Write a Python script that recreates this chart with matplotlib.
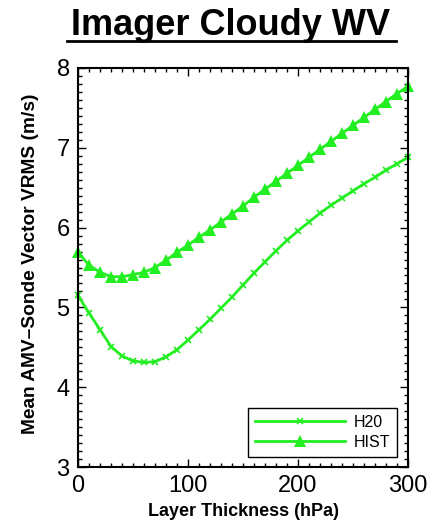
import matplotlib
matplotlib.use("Agg")
import matplotlib.pyplot as plt
from matplotlib.ticker import MultipleLocator
from matplotlib.lines import Line2D

plt.rcParams['font.family'] = ['Liberation Sans', 'DejaVu Sans']

thickness = list(range(0, 301, 10))
h20 = [5.15, 4.93, 4.72, 4.51, 4.39, 4.33, 4.31, 4.32, 4.38, 4.47,
       4.59, 4.72, 4.85, 4.99, 5.13, 5.28, 5.43, 5.57, 5.71, 5.84,
       5.96, 6.07, 6.18, 6.28, 6.37, 6.46, 6.55, 6.63, 6.72, 6.80, 6.88]
hist = [5.69, 5.53, 5.44, 5.385, 5.385, 5.41, 5.44, 5.50, 5.59, 5.69,
        5.78, 5.88, 5.97, 6.07, 6.17, 6.27, 6.38, 6.48, 6.58, 6.68,
        6.78, 6.88, 6.98, 7.08, 7.18, 7.28, 7.38, 7.48, 7.58, 7.68, 7.77]
labels = ["H20", "HIST"]
title = "Imager Cloudy WV"
xlabel = "Layer Thickness (hPa)"
ylabel = "Mean AMV\u2013Sonde Vector VRMS (m/s)"

green = '#22ee22'

fig = plt.figure(figsize=(4.47, 5.31), dpi=100)
ax = fig.add_axes([78/447, 1-467/531, 330/447, 399/531])

ax.plot(thickness, h20, color=green, lw=2, marker='x', ms=5, mew=1.2, label=labels[0], clip_on=False)
ax.plot(thickness, hist, color=green, lw=2, marker='^', ms=9, mew=0, label=labels[1], clip_on=False)

ax.set_xlim(0, 300)
ax.set_ylim(3, 8)
ax.xaxis.set_major_locator(MultipleLocator(100))
ax.xaxis.set_minor_locator(MultipleLocator(10))
ax.yaxis.set_major_locator(MultipleLocator(1))
ax.yaxis.set_minor_locator(MultipleLocator(0.1))
ax.tick_params(which='both', direction='in', top=True, right=True, width=1.0)
ax.tick_params(which='major', length=6, labelsize=17, pad=6)
ax.tick_params(which='minor', length=3)
for s in ax.spines.values():
    s.set_linewidth(1.5)

ax.set_xlabel(xlabel, fontsize=13, fontweight='bold', labelpad=4)
ax.set_ylabel(ylabel, fontsize=13.8, fontweight='bold', labelpad=6)
ax.yaxis.set_label_coords(-0.118, 0.51)

leg = ax.legend(loc='lower right', bbox_to_anchor=(397/447, 1-457/531),
                bbox_transform=fig.transFigure, borderaxespad=0,
                fontsize=11.5, numpoints=1, handlelength=5.6, handletextpad=0.55,
                fancybox=False, edgecolor='black', framealpha=1,
                borderpad=0.45, labelspacing=0.3)
leg.get_frame().set_linewidth(1.0)

fig.text(231/447, 1-35/531, title, fontsize=26, fontweight='bold', ha='center', va='baseline')
fig.add_artist(Line2D([67/447, 396/447], [1-41/531, 1-41/531], color='black', lw=2, transform=fig.transFigure))

fig.savefig('out.png', dpi=100)
